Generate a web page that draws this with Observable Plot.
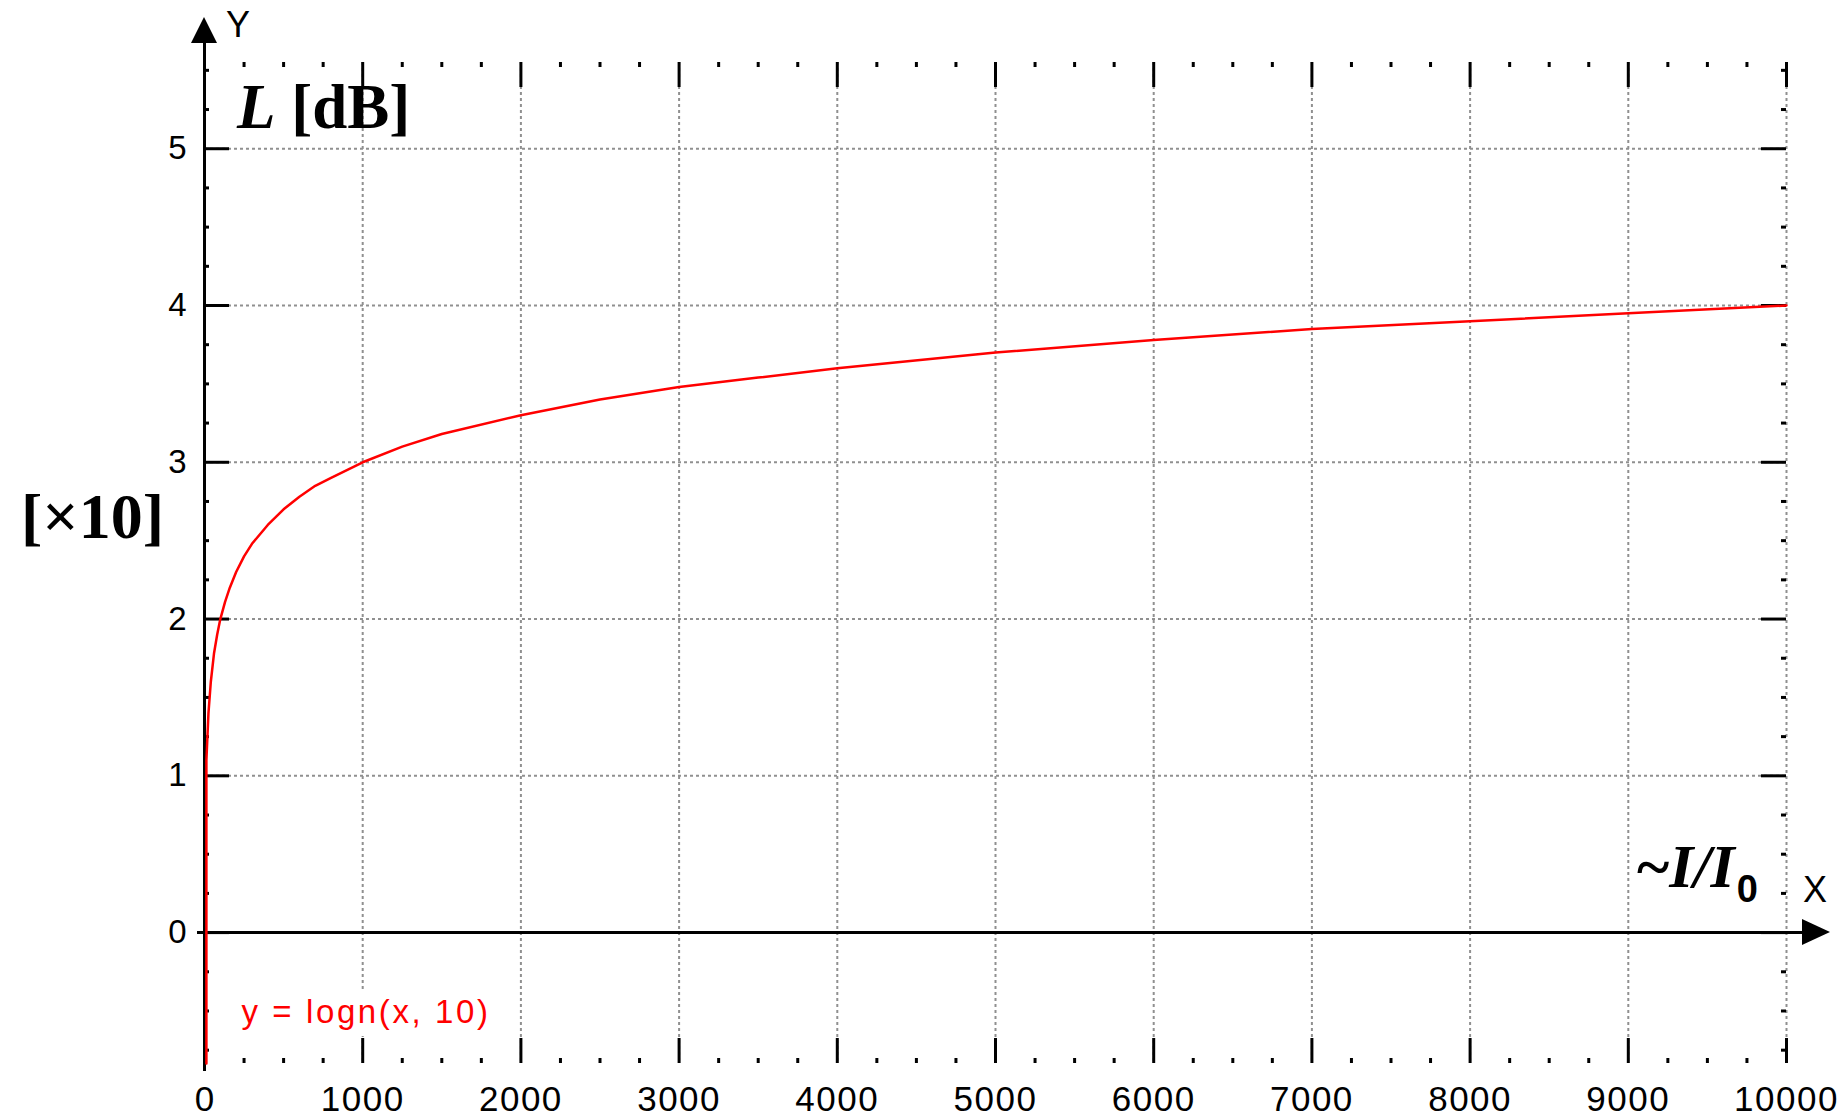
<!DOCTYPE html>
<html><head><meta charset="utf-8">
<script src="https://cdn.jsdelivr.net/npm/d3@7"></script>
<script src="https://cdn.jsdelivr.net/npm/@observablehq/plot@0.6"></script>
<style>
body{margin:0;background:#fff;}
#chart svg{display:block;}
</style>
</head><body><div id="chart"></div>
<script>
// Curve y = log10(x)
const curveX = [12, 12, 25, 40, 60, 80, 100, 130, 160, 200, 250, 300, 400, 500, 600, 700, 800, 1000, 1250, 1500, 2000, 2500, 3000, 3500, 4000, 5000, 6000, 7000, 8000, 9000, 10000];
const curveY = [-0.835, 1.1, 1.4, 1.6, 1.78, 1.9, 2.0, 2.11, 2.2, 2.3, 2.4, 2.48, 2.6, 2.7, 2.78, 2.85, 2.9, 3.0, 3.1, 3.18, 3.3, 3.4, 3.48, 3.54, 3.6, 3.7, 3.78, 3.85, 3.9, 3.95, 4.0];
const xTickLabels = [0, 1000, 2000, 3000, 4000, 5000, 6000, 7000, 8000, 9000, 10000];
const yTickLabels = [0, 1, 2, 3, 4, 5];
const xGridValues = [1000, 2000, 3000, 4000, 5000, 6000, 7000, 8000, 9000, 10000];
const yGridValues = [1, 2, 3, 4, 5];
const xMinor = d3.range(250, 10000, 250).filter(v => v % 1000 !== 0);
const yMinor = d3.range(-0.75, 5.6, 0.25).filter(v => Math.abs(v - Math.round(v)) > 1e-9);
const funcLabel = "y = logn(x, 10)";

const curve = curveX.map((x, i) => ({x, y: curveY[i]}));

const W = 1839, H = 1117;
const mL = 204, mR = 53, mT = 62, mB = 54;
const fw = W - mL - mR, fh = H - mT - mB;
const major = 25, minor = 5;
const grid = {stroke: "#909090", strokeWidth: 2, strokeDasharray: "3,3"};
const tickFont = "Liberation Sans, Arial, sans-serif";

function decor(index, scales, values, dim) {
  const g = d3.create("svg:g").attr("text-anchor", "start");
  const x0 = scales.x(0), y0 = scales.y(0);
  // arrows
  g.append("path").attr("d", `M${x0},17 L${x0 - 13},43 L${x0 + 13},43 Z`).attr("fill", "#000");
  g.append("path").attr("d", `M1830,${y0} L1802,${y0 - 13} L1802,${y0 + 13} Z`).attr("fill", "#000");
  // axis letters
  g.append("text").attr("x", 226).attr("y", 37).attr("font-family", tickFont).attr("font-size", 36).text("Y");
  g.append("text").attr("x", 1803).attr("y", 902).attr("font-family", tickFont).attr("font-size", 36).text("X");
  const serif = "Liberation Serif, Times New Roman, serif";
  // L [dB]
  const t1 = g.append("text").attr("x", 237).attr("y", 128).attr("font-family", serif).attr("font-size", 63).attr("font-weight", "bold");
  t1.append("tspan").attr("font-style", "italic").text("L");
  t1.append("tspan").text(" [dB]");
  // [×10]
  g.append("text").attr("x", 21).attr("y", 538).attr("font-family", serif).attr("font-size", 64).attr("font-weight", "bold").text("[×10]");
  // ~I/I0
  const t3 = g.append("text").attr("x", 1637).attr("y", 887).attr("font-family", serif).attr("font-size", 62).attr("font-weight", "bold");
  t3.append("tspan").text("~");
  t3.append("tspan").attr("font-style", "italic").text("I/I");
  t3.append("tspan").attr("font-family", "Liberation Sans, Arial, sans-serif").attr("font-size", 38).attr("dy", 15).attr("dx", 2).text("0");
  return g.node();
}

function labelBg(index, scales, values, dim) {
  const g = d3.create("svg:g");
  g.append("rect").attr("x", 232).attr("y", 990).attr("width", 268).attr("height", 46).attr("fill", "#fff");
  return g.node();
}

const plot = Plot.plot({
  width: W, height: H,
  marginLeft: mL, marginRight: mR, marginTop: mT, marginBottom: mB,
  x: {domain: [0, 10000], axis: null},
  y: {domain: [-0.835, 5.55], axis: null},
  style: {background: "#fff", overflow: "visible"},
  marks: [
    Plot.ruleX(xGridValues, grid),
    Plot.ruleY(yGridValues, grid),
    labelBg,
    // bottom ticks
    Plot.tickX(xMinor, {x: d => d, insetTop: fh - minor, stroke: "#000", strokeWidth: 3}),
    Plot.tickX(xGridValues, {x: d => d, insetTop: fh - major, stroke: "#000", strokeWidth: 3}),
    // top ticks
    Plot.tickX(xMinor, {x: d => d, insetBottom: fh - minor, stroke: "#000", strokeWidth: 3}),
    Plot.tickX(xGridValues, {x: d => d, insetBottom: fh - major, stroke: "#000", strokeWidth: 3}),
    // left ticks
    Plot.tickY(yMinor, {y: d => d, insetRight: fw - minor, stroke: "#000", strokeWidth: 3}),
    Plot.tickY(yTickLabels, {y: d => d, insetRight: fw - major, stroke: "#000", strokeWidth: 3}),
    // right ticks
    Plot.tickY(yMinor, {y: d => d, insetLeft: fw - minor, stroke: "#000", strokeWidth: 3}),
    Plot.tickY(yTickLabels, {y: d => d, insetLeft: fw - major, stroke: "#000", strokeWidth: 3}),
    // axis lines
    Plot.ruleY([0], {stroke: "#000", strokeWidth: 3, insetLeft: -7, insetRight: -30}),
    Plot.ruleX([0], {stroke: "#000", strokeWidth: 3, insetTop: -20, insetBottom: -8}),
    // curve
    Plot.line(curve, {x: "x", y: "y", stroke: "#ff0000", strokeWidth: 2.5, curve: "linear"}),
    // function label
    Plot.text([funcLabel], {text: d => d, frameAnchor: "bottom-left", dx: 37, dy: -51, textAnchor: "start", lineAnchor: "middle", fill: "#ff0000", fontSize: 33, fontFamily: tickFont}),
    // tick labels
    Plot.text(xTickLabels, {x: d => d, text: d => String(d), frameAnchor: "bottom", dy: 36, lineAnchor: "middle", fontSize: 35, fontFamily: tickFont, fill: "#000"}),
    Plot.text(yTickLabels, {y: d => d, text: d => String(d), frameAnchor: "left", dx: -18, textAnchor: "end", lineAnchor: "middle", fontSize: 33, fontFamily: tickFont, fill: "#000"}),
    decor
  ]
});
// pixel-font-like widening of the small labels
d3.select(plot).selectAll("text").each(function() {
  const s = d3.select(this);
  const t = s.text();
  if (t === funcLabel) s.attr("letter-spacing", "2.6px");
  else if (/^\d+$/.test(t) && t.length > 1) s.attr("letter-spacing", "1.5px");
});
document.getElementById("chart").appendChild(plot);
</script>
</body></html>
